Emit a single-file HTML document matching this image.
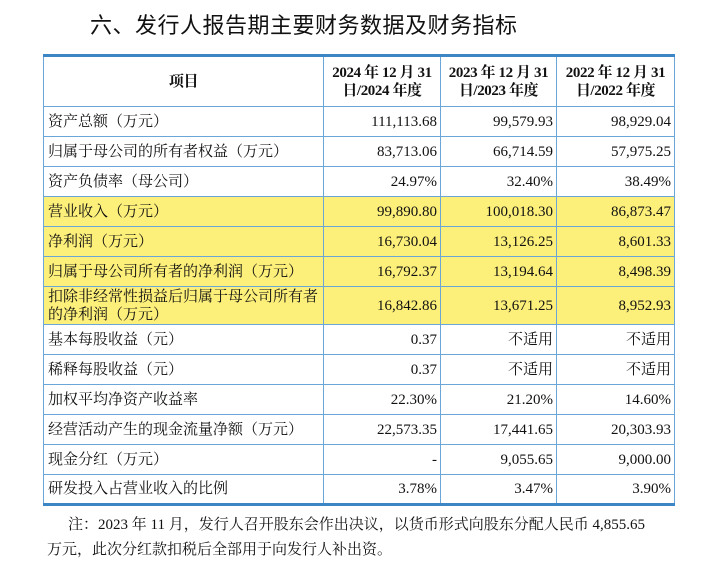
<!DOCTYPE html>
<html><head><meta charset="utf-8"><style>
body{margin:0;width:719px;height:563px;background:#fff;font-family:"Liberation Serif","Noto Serif CJK SC",serif;color:#111;overflow:hidden;position:relative}
h1{position:absolute;left:90px;top:8px;margin:0;font-size:22px;font-weight:normal;font-family:"Liberation Sans","Noto Sans CJK SC",sans-serif;letter-spacing:0.5px}
table{position:absolute;left:43px;top:54px;width:631px;border-collapse:collapse;table-layout:fixed;font-size:15px}
td,th{border:1.5px solid #6aa6d8;padding:0 3px;height:30px;line-height:18px;box-sizing:border-box}
table tr:first-child th{border-top:3px solid #3d86c6}
table tr:last-child td{border-bottom:3px solid #3d86c6}
th{font-weight:bold;height:51px;font-size:15px;white-space:nowrap;letter-spacing:-0.4px;padding:0 2px}
td.n{text-align:right}
td.l{text-align:left;padding-left:4px}
tr.hl td{background:#fdf07a}
tr.dbl td{height:38px}
.note{position:absolute;left:47px;top:513px;width:620px;font-size:15px;line-height:25px;text-indent:21px}
</style></head><body>
<h1>六、发行人报告期主要财务数据及财务指标</h1>
<table>
<colgroup><col style="width:280px"><col style="width:117px"><col style="width:116px"><col style="width:118px"></colgroup>
<tr><th>项目</th><th>2024 年 12 月 31<br>日/2024 年度</th><th>2023 年 12 月 31<br>日/2023 年度</th><th>2022 年 12 月 31<br>日/2022 年度</th></tr>
<tr><td class="l">资产总额（万元）</td><td class="n">111,113.68</td><td class="n">99,579.93</td><td class="n">98,929.04</td></tr>
<tr><td class="l">归属于母公司的所有者权益（万元）</td><td class="n">83,713.06</td><td class="n">66,714.59</td><td class="n">57,975.25</td></tr>
<tr><td class="l">资产负债率（母公司）</td><td class="n">24.97%</td><td class="n">32.40%</td><td class="n">38.49%</td></tr>
<tr class="hl"><td class="l">营业收入（万元）</td><td class="n">99,890.80</td><td class="n">100,018.30</td><td class="n">86,873.47</td></tr>
<tr class="hl"><td class="l">净利润（万元）</td><td class="n">16,730.04</td><td class="n">13,126.25</td><td class="n">8,601.33</td></tr>
<tr class="hl"><td class="l">归属于母公司所有者的净利润（万元）</td><td class="n">16,792.37</td><td class="n">13,194.64</td><td class="n">8,498.39</td></tr>
<tr class="hl dbl"><td class="l">扣除非经常性损益后归属于母公司所有者的净利润（万元）</td><td class="n">16,842.86</td><td class="n">13,671.25</td><td class="n">8,952.93</td></tr>
<tr><td class="l">基本每股收益（元）</td><td class="n">0.37</td><td class="n">不适用</td><td class="n">不适用</td></tr>
<tr><td class="l">稀释每股收益（元）</td><td class="n">0.37</td><td class="n">不适用</td><td class="n">不适用</td></tr>
<tr><td class="l">加权平均净资产收益率</td><td class="n">22.30%</td><td class="n">21.20%</td><td class="n">14.60%</td></tr>
<tr><td class="l">经营活动产生的现金流量净额（万元）</td><td class="n">22,573.35</td><td class="n">17,441.65</td><td class="n">20,303.93</td></tr>
<tr><td class="l">现金分红（万元）</td><td class="n">-</td><td class="n">9,055.65</td><td class="n">9,000.00</td></tr>
<tr><td class="l">研发投入占营业收入的比例</td><td class="n">3.78%</td><td class="n">3.47%</td><td class="n">3.90%</td></tr>
</table>
<div class="note">注：2023 年 11 月，发行人召开股东会作出决议，以货币形式向股东分配人民币 4,855.65<br>万元，此次分红款扣税后全部用于向发行人补出资。</div>
</body></html>
